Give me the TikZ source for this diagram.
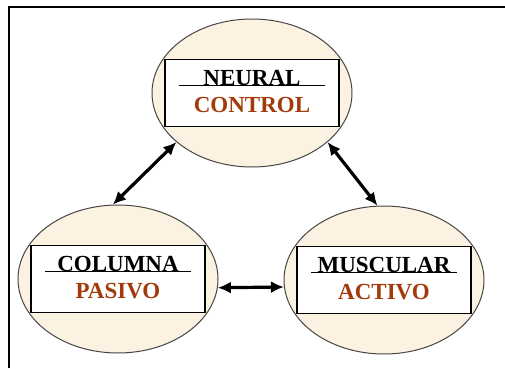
\documentclass[tikz,border=0pt]{standalone}
\usepackage{fontspec}
\setmainfont{Liberation Serif}
\usepackage{xcolor}
\usepackage{tikz}
\usetikzlibrary{arrows.meta,shapes.geometric}
\definecolor{parchment}{RGB}{252,242,225}
\definecolor{rustbrown}{RGB}{163,58,12}
\definecolor{rimgray}{RGB}{70,70,70}

\begin{document}
\begin{tikzpicture}[x=1pt,y=1pt,
  bubble/.style={ellipse, draw=rimgray, line width=1pt, fill=parchment, minimum width=200pt, minimum height=148pt, inner sep=0pt},
  labelbox/.style={draw, line width=1.1pt, fill=white, minimum width=174pt, minimum height=67pt, inner sep=0pt},
  headword/.style={anchor=base, inner sep=0pt, font=\fontsize{23}{27}\selectfont\bfseries},
  subword/.style={headword, text=rustbrown},
  uline/.style={line width=1.1pt},
  arrow/.style={{Latex[length=13pt,width=12pt]}-{Latex[length=13pt,width=12pt]}, line width=3.2pt},
  frame/.style={line width=2.2pt}
]
\useasboundingbox (0,0) rectangle (505,368);
\draw[frame] (9,0) |- (505,361);

\node[bubble] (neural) at (252,275) {};
\node[bubble] (columna) at (118,89) {};
\node[bubble] (muscular) at (384,88) {};

\node[labelbox] (neuralbox) at (neural.center) {};
\node[labelbox] (columnabox) at (columna.center) {};
\node[labelbox] (muscularbox) at (muscular.center) {};

\node[headword] (neuralhead) at ([yshift=7.5pt]neuralbox.center) {NEURAL};
\node[subword] (neuralsub) at ([yshift=-19.5pt]neuralbox.center) {CONTROL};
\node[headword] (columnahead) at ([yshift=7.5pt]columnabox.center) {COLUMNA};
\node[subword] (columnasub) at ([yshift=-19.5pt]columnabox.center) {PASIVO};
\node[headword] (muscularhead) at ([yshift=7.5pt]muscularbox.center) {MUSCULAR};
\node[subword] (muscularsub) at ([yshift=-19.5pt]muscularbox.center) {ACTIVO};

\draw[uline] ([xshift=-73pt]neuralhead.base) -- ([xshift=73pt]neuralhead.base);
\draw[uline] ([xshift=-73pt]columnahead.base) -- ([xshift=73pt]columnahead.base);
\draw[uline] ([xshift=-73pt]muscularhead.base) -- ([xshift=73pt]muscularhead.base);

\draw[arrow] (neural.213) -- (columna.94);
\draw[arrow] (neural.327) -- (muscular.95);
\draw[arrow] (columna.355) -- (muscular.184);
\end{tikzpicture}
\end{document}
